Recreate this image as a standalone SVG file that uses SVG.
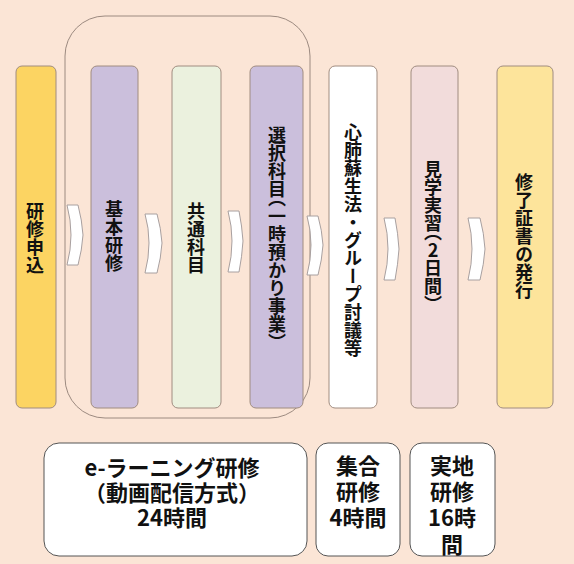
<svg xmlns="http://www.w3.org/2000/svg" width="574" height="564" viewBox="0 0 574 564">
<style>
.node{stroke:#A08C80;stroke-width:1}
.vt{font-family:"Noto Sans CJK JP","Noto Sans CJK SC",sans-serif;font-weight:bold;font-size:18px;fill:#111;writing-mode:vertical-rl;text-orientation:upright;text-anchor:middle}
.br{font-feature-settings:"vhal"}
.chev{fill:#FFFFFF;stroke:#A8A0A0;stroke-width:1}
.bot{fill:#FFFFFF;stroke:#555;stroke-width:1}
.ht{font-family:"Noto Sans CJK JP","Noto Sans CJK SC",sans-serif;font-weight:bold;font-size:22px;fill:#111;text-anchor:middle}
</style>
<rect x="0" y="0" width="574" height="564" fill="#FBE5D6"/>
<g id="outline-group">
<rect x="65" y="16" width="245" height="402" rx="40" fill="none" stroke="#9C8A80" stroke-width="1"/>
</g>
<g id="connectors">
<path class="chev" d="M67,205 L78,205 Q82,220 83,235 Q82,250 78,265 L67,265 Q71,250 71,235 Q71,220 67,205 Z"/>
<path class="chev" d="M145,214 L157,214 Q161,228 162,243 Q161,258 157,273 L145,273 Q149,258 149,243 Q149,228 145,214 Z"/>
<path class="chev" d="M228,211 L239,211 Q242,226 243,241 Q242,257 239,272 L228,272 Q232,257 232,241 Q232,226 228,211 Z"/>
<path class="chev" d="M307,216 L318,216 Q322,230 323,245 Q322,260 318,275 L307,275 Q311,260 311,245 Q311,230 307,216 Z"/>
<path class="chev" d="M384,218 L395,218 Q398,233 399,249 Q398,264 395,280 L384,280 Q388,264 388,249 Q388,233 384,218 Z"/>
<path class="chev" d="M468,218 L480,218 Q484,233 485,249 Q484,264 480,280 L468,280 Q472,264 472,249 Q472,233 468,218 Z"/>
</g>
<g id="node-apply">
<rect class="node" x="16" y="66" width="40" height="342" rx="6" fill="#FCD462"/>
<text class="vt" x="35" y="238">研修申込</text>
</g>
<g id="node-basic">
<rect class="node" x="91" y="66" width="47" height="342" rx="6" fill="#CBBFDC"/>
<text class="vt" x="114" y="236">基本研修</text>
</g>
<g id="node-common">
<rect class="node" x="172" y="66" width="49" height="342" rx="6" fill="#EBF1DE"/>
<text class="vt" x="196" y="238">共通科目</text>
</g>
<g id="node-elective">
<rect class="node" x="250" y="66" width="53" height="342" rx="6" fill="#CBBFDC"/>
<text class="vt" x="277" y="234">選択科目<tspan class="br">（</tspan>一時預かり事業<tspan class="br">）</tspan></text>
</g>
<g id="node-cpr">
<rect class="node" x="329" y="66" width="48" height="342" rx="6" fill="#FFFFFF"/>
<text class="vt" x="353" y="240">心肺蘇生法・グループ討議等</text>
</g>
<g id="node-practice">
<rect class="node" x="411" y="66" width="47" height="342" rx="6" fill="#F2DCDB"/>
<text class="vt" x="433" y="232">見学実習<tspan class="br">（</tspan>2日間<tspan class="br">）</tspan></text>
</g>
<g id="node-certificate">
<rect class="node" x="497" y="66" width="56" height="342" rx="6" fill="#FDE49B"/>
<text class="vt" x="524" y="236">修了証書の発行</text>
</g>
<g id="label-elearning">
<rect class="bot" x="44" y="443" width="263" height="113" rx="15"/>
<text class="ht" x="172" y="476">e-ラーニング研修</text>
<text class="ht" x="172" y="501">（動画配信方式）</text>
<text class="ht" x="172" y="526">24時間</text>
</g>
<g id="label-group">
<rect class="bot" x="316" y="443" width="84" height="113" rx="12"/>
<text class="ht" x="358" y="474">集合</text>
<text class="ht" x="358" y="500">研修</text>
<text class="ht" x="358" y="526">4時間</text>
</g>
<g id="label-field">
<rect class="bot" x="410" y="443" width="85" height="113" rx="12"/>
<text class="ht" x="452" y="474">実地</text>
<text class="ht" x="452" y="500">研修</text>
<text class="ht" x="452" y="526">16時</text>
<text class="ht" x="452" y="553">間</text>
</g>
</svg>
